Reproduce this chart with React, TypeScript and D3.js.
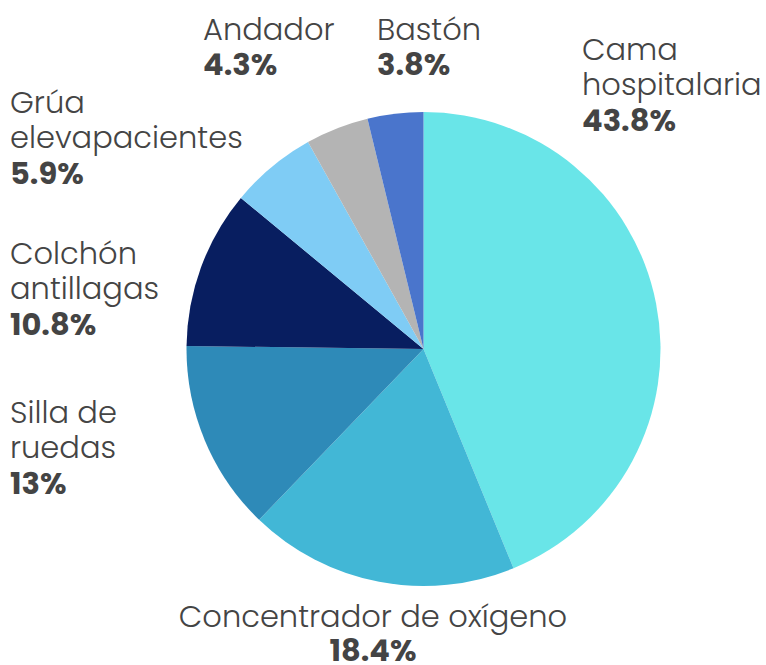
import React from "react";
import * as d3 from "d3";

const categories = [
  "Cama hospitalaria",
  "Concentrador de oxígeno",
  "Silla de ruedas",
  "Colchón antillagas",
  "Grúa elevapacientes",
  "Andador",
  "Bastón",
];
const values = [43.8, 18.4, 13, 10.8, 5.9, 4.3, 3.8];
const valueLabels = ["43.8%", "18.4%", "13%", "10.8%", "5.9%", "4.3%", "3.8%"];
const nameLines = [
  ["Cama", "hospitalaria"],
  ["Concentrador de oxígeno"],
  ["Silla de", "ruedas"],
  ["Colchón", "antillagas"],
  ["Grúa", "elevapacientes"],
  ["Andador"],
  ["Bastón"],
];
const colors = ["#69E5E8", "#42B7D6", "#2E8AB8", "#081E60", "#7FCCF5", "#B4B4B4", "#4A75CC"];

// layout for labels (x, first baseline, anchor)
const labelLayout: [number, number, string][] = [
  [582, 60, "start"],
  [373, 627, "middle"],
  [10, 423, "start"],
  [10, 264, "start"],
  [10, 113, "start"],
  [203, 40, "start"],
  [377, 40, "start"],
];

const W = 766;
const H = 665;
const cx = 423.5;
const cy = 349;
const R = 237;
const lineH = 35.3;

export default function App() {
  const pie = d3.pie<number>().sort(null).value((d) => d)(values);
  const arc = d3.arc<d3.PieArcDatum<number>>().innerRadius(0).outerRadius(R);
  const font = "Poppins, 'Open Sans', sans-serif";
  return (
    <svg width={W} height={H} style={{ position: "absolute", left: 0, top: 0 }}>
      <g transform={`translate(${cx},${cy})`}>
        {pie.map((p, i) => (
          <path key={categories[i]} d={arc(p) || ""} fill={colors[i]} />
        ))}
      </g>
      {categories.map((c, i) => {
        const [x, y, anchor] = labelLayout[i];
        const lines = nameLines[i];
        const last = y + lines.length * lineH;
        return (
          <text key={c} x={x} y={y} textAnchor={anchor as any} fill="#444" fontFamily={font}>
            {lines.map((l, j) => (
              <tspan key={j} x={x} y={y + j * lineH} fontSize={30.5} fontWeight={300}>
                {l}
              </tspan>
            ))}
            <tspan x={x} y={Math.min(last, 661)} fontSize={30.5} fontWeight={700}>
              {valueLabels[i]}
            </tspan>
          </text>
        );
      })}
    </svg>
  );
}
